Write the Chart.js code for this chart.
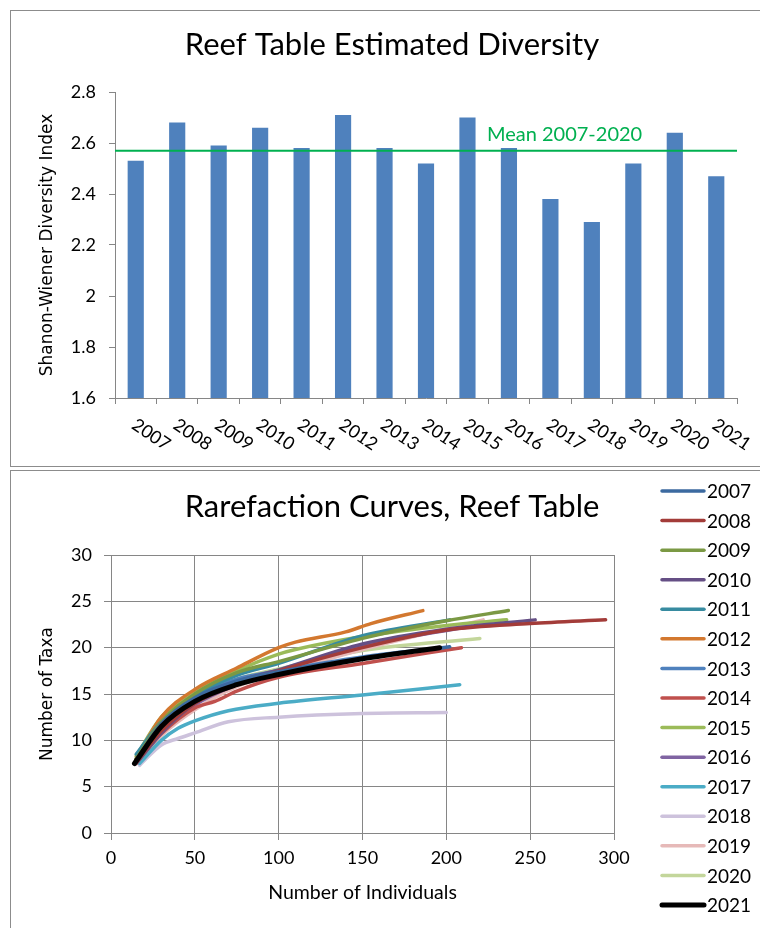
<!DOCTYPE html>
<html>
<head>
<meta charset="utf-8">
<title>Reef Table Diversity</title>
<script src="https://cdn.jsdelivr.net/npm/chart.js@4.4.1/dist/chart.umd.min.js"></script>
<style>
html, body { margin: 0; padding: 0; background: #fff; width: 760px; height: 928px; overflow: hidden; position: relative; }
.box { position: absolute; border: 1px solid #8c8c8c; box-sizing: border-box; }
#box1 { left: 10px; top: 10px; width: 760px; height: 457px; }
#box2 { left: 10px; top: 470px; width: 760px; height: 470px; }
canvas { position: absolute; }
#divChart { left: 11px; top: 11px; }
#rareChart { left: 11px; top: 471px; }
</style>
</head>
<body>
<div class="box" id="box1"></div>
<div class="box" id="box2"></div>
<canvas id="divChart" width="762" height="454"></canvas>
<canvas id="rareChart" width="762" height="457"></canvas>

<script>
/* ---------------- DATA ---------------- */
const years = ["2007", "2008", "2009", "2010", "2011", "2012", "2013", "2014",
               "2015", "2016", "2017", "2018", "2019", "2020", "2021"];

// Shannon-Wiener index per year (top chart)
const diversity = [2.53, 2.68, 2.59, 2.66, 2.58, 2.71, 2.58, 2.52,
                   2.70, 2.58, 2.38, 2.29, 2.52, 2.64, 2.47];
const meanDiversity = 2.57;           // mean 2007-2020
const meanLabel = "Mean 2007-2020";

// Rarefaction curves: individuals (x) and taxa (y) per year
const indiv2007 = [15, 30, 50, 75, 100, 150, 202];
const taxa2007  = [7.8, 11.8, 14.6, 16.4, 17.4, 18.9, 20.1];
const indiv2008 = [15, 30, 50, 75, 100, 150, 200, 250, 295];
const taxa2008  = [7.6, 11, 14, 16, 17.5, 20, 21.9, 22.6, 23];
const indiv2009 = [15, 30, 50, 75, 100, 150, 200, 237];
const taxa2009  = [8, 12, 15, 17.3, 18.5, 21, 22.9, 24];
const indiv2010 = [15, 30, 50, 75, 100, 150, 200, 253];
const taxa2010  = [7.5, 10.8, 14, 16.3, 17.6, 20.4, 22, 23];
const indiv2011 = [15, 30, 50, 75, 100, 150, 202];
const taxa2011  = [8.5, 12, 14.8, 17, 18.3, 21.3, 23];
const indiv2012 = [15, 30, 50, 75, 100, 110, 140, 155, 186];
const taxa2012  = [8, 12.5, 15.5, 17.8, 20, 20.6, 21.7, 22.6, 24];
const indiv2013 = [15, 30, 50, 75, 100, 150, 198];
const taxa2013  = [8, 11.8, 14.7, 16.6, 17.5, 19, 20];
const indiv2014 = [15, 30, 50, 62, 75, 100, 150, 209];
const taxa2014  = [7.5, 10.7, 13.5, 14.2, 15.3, 16.8, 18.3, 20];
const indiv2015 = [15, 30, 50, 75, 100, 110, 150, 200, 236];
const taxa2015  = [8.3, 12.5, 15.2, 17.5, 19.3, 19.8, 21.2, 22.4, 23];
const indiv2016 = [15, 30, 50, 75, 100, 150, 215];
const taxa2016  = [7.6, 10.8, 13.8, 16, 17.5, 20.2, 22.3];
const indiv2017 = [17, 30, 40, 50, 70, 100, 150, 208];
const taxa2017  = [7.5, 10, 11.3, 12.1, 13.2, 14, 14.9, 16];
const indiv2018 = [17, 30, 40, 50, 70, 100, 150, 200];
const taxa2018  = [7.3, 9.5, 10.2, 10.8, 12, 12.5, 12.9, 13];
const indiv2019 = [15, 30, 50, 75, 100, 150, 222];
const taxa2019  = [7.5, 10.5, 13.3, 15.8, 17.2, 19.8, 23];
const indiv2020 = [15, 30, 50, 75, 100, 150, 220];
const taxa2020  = [8, 11.8, 14.8, 16.6, 17.7, 19.7, 21];
const indiv2021 = [14, 30, 50, 75, 100, 150, 196];
const taxa2021  = [7.5, 11.5, 14.2, 16, 17.1, 18.8, 20];

const rareIndiv = [indiv2007, indiv2008, indiv2009, indiv2010, indiv2011, indiv2012, indiv2013, indiv2014,
                   indiv2015, indiv2016, indiv2017, indiv2018, indiv2019, indiv2020, indiv2021];
const rareTaxa  = [taxa2007, taxa2008, taxa2009, taxa2010, taxa2011, taxa2012, taxa2013, taxa2014,
                   taxa2015, taxa2016, taxa2017, taxa2018, taxa2019, taxa2020, taxa2021];

const lineColors = ["#3c6aa0", "#a33c39", "#7b9944", "#654f85", "#378ba0", "#d3782f", "#4f81bd", "#c0504d",
                    "#9bbb59", "#8064a2", "#4bacc6", "#cdc2dc", "#e6b9b8", "#c3d69b", "#000000"];
/* -------------------------------------- */

const FONT = "Lato, 'Liberation Sans', sans-serif";
const AXIS_FONT = "'DejaVu Sans', sans-serif";
const AXIS_GREY = "#868686";

// Excel-style title, centred on the whole box (Chart.js centres on width minus padding)
function boxTitle(text, y) {
    return {
        id: "boxTitle",
        afterDraw(chart) {
            const { ctx } = chart;
            ctx.save();
            ctx.fillStyle = "#000";
            ctx.font = "31px " + FONT;
            ctx.textAlign = "center";
            ctx.textBaseline = "middle";
            ctx.fillText(text, 381, y);
            ctx.restore();
        }
    };
}

/* ---------- Top chart: bars + mean line ---------- */
const meanLine = {
    id: "meanLine",
    afterDatasetsDraw(chart) {
        const { ctx, scales: { x, y } } = chart;
        const py = y.getPixelForValue(meanDiversity);
        ctx.save();
        ctx.strokeStyle = "#00b050";
        ctx.lineWidth = 2;
        ctx.beginPath();
        ctx.moveTo(x.left, py);
        ctx.lineTo(x.right, py);
        ctx.stroke();
        ctx.fillStyle = "#00b050";
        ctx.font = "20px " + FONT;
        ctx.textAlign = "left";
        ctx.textBaseline = "alphabetic";
        ctx.fillText(meanLabel, x.getPixelForTick(9) - 22, py - 10);
        ctx.restore();
    }
};

// year labels slant down to the right, which the category axis cannot do itself
const slantLabels = {
    id: "slantLabels",
    afterDraw(chart) {
        const { ctx, scales: { x } } = chart;
        ctx.save();
        ctx.fillStyle = "#000";
        ctx.font = "18px " + FONT;
        ctx.textAlign = "left";
        ctx.textBaseline = "middle";
        years.forEach((lab, i) => {
            ctx.save();
            ctx.translate(x.getPixelForTick(i) - 2, x.top + 25);
            ctx.rotate(34 * Math.PI / 180);
            ctx.fillText(lab, 0, 0);
            ctx.restore();
        });
        ctx.restore();
    }
};

new Chart(document.getElementById("divChart"), {
    type: "bar",
    data: {
        labels: years,
        datasets: [{
            data: diversity,
            backgroundColor: "#4f81bd",
            borderWidth: 0,
            categoryPercentage: 1,
            barPercentage: 0.39
        }]
    },
    options: {
        responsive: false,
        animation: false,
        layout: { padding: { left: 0, right: 36, top: 81, bottom: 0 } },
        plugins: {
            legend: { display: false },
            tooltip: { enabled: false },
            title: { display: false }
        },
        scales: {
            x: {
                ticks: { display: false },
                grid: { display: true, drawOnChartArea: false, offset: true, tickLength: 6, color: AXIS_GREY },
                border: { color: AXIS_GREY },
                afterFit(scale) { scale.height = 67; }
            },
            y: {
                min: 1.6,
                max: 2.8,
                ticks: {
                    stepSize: 0.2,
                    color: "#000",
                    padding: 13,
                    font: { family: FONT, size: 18 },
                    callback: v => String(+v.toFixed(1))
                },
                grid: { drawOnChartArea: false, tickLength: 6, color: AXIS_GREY },
                border: { color: AXIS_GREY },
                title: {
                    display: true,
                    text: "Shanon-Wiener Diversity Index",
                    color: "#000",
                    font: { family: AXIS_FONT, size: 17 },
                    padding: { top: 26, bottom: 0 }
                },
                afterFit(scale) { scale.width = 104; }
            }
        }
    },
    plugins: [meanLine, slantLabels, boxTitle("Reef Table Estimated Diversity", 34)]
});

/* ---------- Bottom chart: rarefaction curves ---------- */
const sideLegend = {
    id: "sideLegend",
    afterDraw(chart) {
        const { ctx } = chart;
        ctx.save();
        ctx.font = "19px " + FONT;
        ctx.textAlign = "left";
        ctx.textBaseline = "middle";
        ctx.lineCap = "round";
        chart.data.datasets.forEach((ds, i) => {
            const yy = 20 + i * 29.57;
            ctx.strokeStyle = ds.borderColor;
            ctx.lineWidth = ds.borderWidth;
            ctx.beginPath();
            ctx.moveTo(651, yy);
            ctx.lineTo(693, yy);
            ctx.stroke();
            ctx.fillStyle = "#000";
            ctx.fillText(ds.label, 696, yy + 1);
        });
        ctx.restore();
    }
};

const rareSets = years.map((yr, i) => ({
    label: yr,
    data: rareIndiv[i].map((n, j) => ({ x: n, y: rareTaxa[i][j] })),
    borderColor: lineColors[i],
    backgroundColor: lineColors[i],
    borderWidth: yr === "2021" ? 5 : 3.5,
    showLine: true,
    pointRadius: 0,
    cubicInterpolationMode: "monotone",
    borderCapStyle: "round",
    order: yr === "2021" ? 0 : 1
}));

new Chart(document.getElementById("rareChart"), {
    type: "scatter",
    data: { datasets: rareSets },
    options: {
        responsive: false,
        animation: false,
        layout: { padding: { left: 0, right: 159, top: 84, bottom: 0 } },
        plugins: {
            legend: { display: false },
            tooltip: { enabled: false },
            title: { display: false }
        },
        scales: {
            x: {
                type: "linear",
                min: 0,
                max: 300,
                ticks: { stepSize: 50, color: "#000", padding: 7, font: { family: FONT, size: 18 } },
                grid: { color: AXIS_GREY, tickLength: 7 },
                border: { color: AXIS_GREY },
                title: {
                    display: true,
                    text: "Number of Individuals",
                    color: "#000",
                    font: { family: FONT, size: 19.5 },
                    padding: { top: 0, bottom: 24 }
                },
                afterFit(scale) { scale.height = 95; }
            },
            y: {
                min: 0,
                max: 30,
                ticks: { stepSize: 5, color: "#000", padding: 12, font: { family: FONT, size: 18 } },
                grid: { color: AXIS_GREY, tickLength: 7 },
                border: { color: AXIS_GREY },
                title: {
                    display: true,
                    text: "Number of Taxa",
                    color: "#000",
                    font: { family: AXIS_FONT, size: 17 },
                    padding: { top: 26, bottom: 0 }
                },
                afterFit(scale) { scale.width = 100; }
            }
        }
    },
    plugins: [sideLegend, boxTitle("Rarefaction Curves, Reef Table", 36)]
});
</script>
</body>
</html>
